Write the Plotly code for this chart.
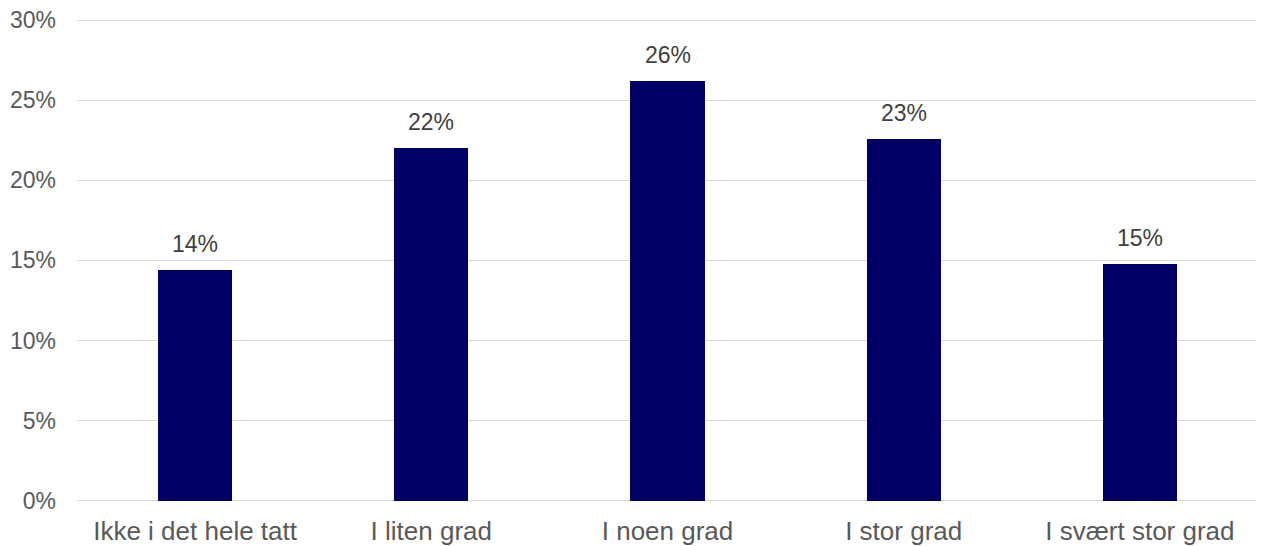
import plotly.graph_objects as go

categories = ["Ikke i det hele tatt", "I liten grad", "I noen grad", "I stor grad", "I svært stor grad"]
values = [14.4, 22.0, 26.2, 22.6, 14.8]
value_labels = ["14%", "22%", "26%", "23%", "15%"]
y_ticks = [0, 5, 10, 15, 20, 25, 30]
y_tick_labels = ["0%", "5%", "10%", "15%", "20%", "25%", "30%"]

FONT = "Liberation Sans, Arial, sans-serif"
TXT = "#595959"

fig = go.Figure(go.Bar(
    x=categories, y=values, marker=dict(color="#000066", line=dict(width=0)),
    width=0.314, hoverinfo="skip"))

for c, v, t in zip(categories, values, value_labels):
    fig.add_annotation(x=c, y=v, text=t, showarrow=False, yanchor="bottom",
                       yshift=11, font=dict(family=FONT, size=23, color="#404040"))

fig.update_layout(
    width=1256, height=538,
    margin=dict(l=69, r=6, t=10, b=45, autoexpand=False),
    paper_bgcolor="white", plot_bgcolor="white",
    showlegend=False,
    font=dict(family=FONT, color=TXT),
    bargap=0,
)
fig.update_xaxes(showgrid=False, showline=False, ticks="", automargin=False,
                 tickfont=dict(family=FONT, size=26, color=TXT),
                 ticklabelstandoff=12)
fig.update_yaxes(range=[-0.01, 30.125], tickvals=y_ticks, ticktext=y_tick_labels,
                 automargin=False, ticklabeloverflow="allow",
                 showgrid=True, gridcolor="#d9d9d9", gridwidth=1,
                 zeroline=True, zerolinecolor="#d9d9d9", zerolinewidth=1,
                 showline=False, ticks="",
                 tickfont=dict(family=FONT, size=23, color=TXT),
                 ticklabelstandoff=20)

fig.write_html("out.html")
